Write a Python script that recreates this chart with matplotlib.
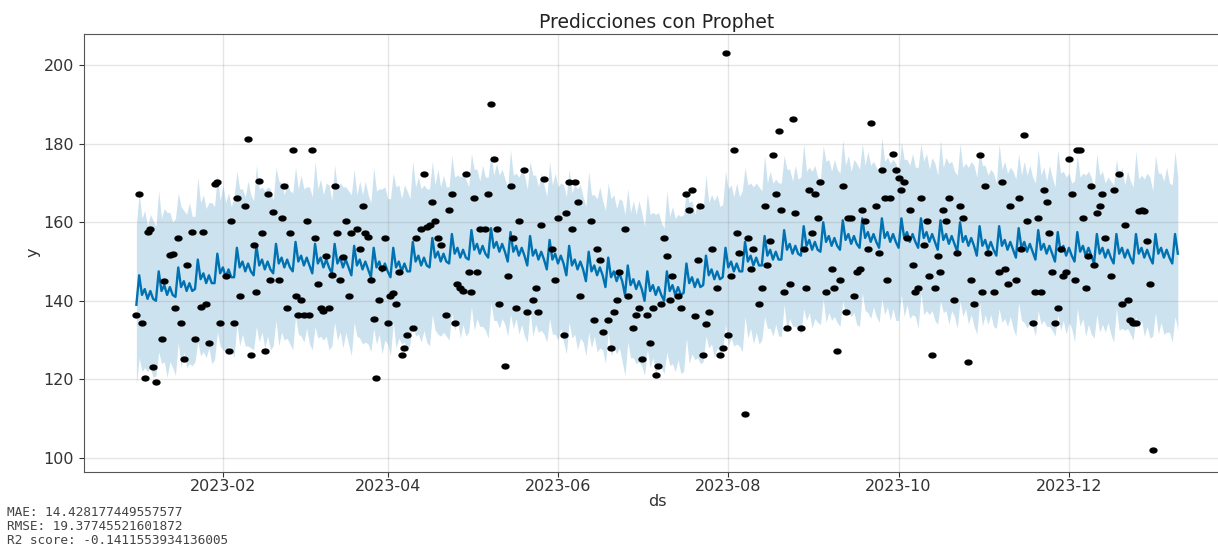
import numpy as np
import pandas as pd
import matplotlib
matplotlib.use("Agg")
import matplotlib.pyplot as plt
import matplotlib.dates as mdates
import matplotlib.path as mpath

start = "2023-01-01"

# observed points: day offset from 2023-01-01 and value
obs_day = [0, 1, 2, 3, 4, 5, 6, 7, 9, 10, 12, 13, 14, 15, 16, 17, 18, 20, 21, 23,
           24, 25, 26, 28, 29, 30, 32, 33, 34, 35, 36, 37, 39, 40, 41, 42, 43, 44, 45, 46,
           47, 48, 49, 51, 52, 53, 54, 55, 56, 57, 58, 59, 60, 61, 62, 63, 64, 65, 66, 67,
           68, 69, 70, 71, 72, 73, 74, 75, 76, 77, 79, 80, 81, 82, 83, 84, 85, 86, 87, 88,
           89, 90, 91, 92, 93, 94, 95, 96, 97, 99, 100, 102, 103, 104, 105, 106, 107, 108, 109, 111,
           112, 113, 114, 115, 116, 117, 118, 119, 120, 121, 122, 123, 125, 126, 127, 128, 129, 130, 132, 133,
           134, 135, 136, 137, 139, 140, 142, 143, 144, 145, 146, 149, 150, 151, 153, 154, 155, 156, 157, 158,
           159, 163, 164, 165, 166, 167, 169, 170, 171, 172, 173, 175, 176, 178, 179, 180, 181, 183, 184, 185,
           186, 187, 188, 189, 190, 191, 192, 194, 195, 197, 198, 199, 200, 201, 202, 203, 204, 205, 206, 208,
           209, 210, 211, 212, 213, 214, 215, 216, 218, 219, 220, 221, 223, 224, 225, 226, 227, 228, 229, 230,
           231, 232, 233, 234, 235, 236, 238, 239, 240, 241, 242, 243, 244, 245, 247, 249, 250, 251, 252, 253,
           254, 255, 256, 257, 258, 259, 260, 261, 262, 263, 265, 266, 267, 268, 269, 270, 271, 272, 273, 274,
           275, 276, 277, 278, 279, 280, 281, 282, 283, 284, 285, 286, 287, 288, 289, 290, 291, 293, 294, 295,
           296, 298, 299, 300, 302, 303, 304, 305, 307, 309, 310, 311, 312, 313, 315, 316, 317, 318, 319, 321,
           322, 323, 324, 325, 326, 327, 328, 329, 330, 331, 332, 333, 334, 335, 336, 337, 338, 339, 340, 341,
           342, 343, 344, 345, 346, 347, 349, 350, 352, 353, 354, 355, 356, 357, 358, 359, 360, 361, 362, 363,
           364]
obs_y = [136.3, 167.1, 134.4, 120.4, 157.6, 158.2, 123.2, 119.4, 130.2, 145.1, 151.6, 152.0, 138.2, 156.1, 134.4, 125.2, 149.2, 157.4, 130.2, 138.5,
         157.4, 139.1, 129.3, 169.7, 170.3, 134.4, 146.3, 127.3, 160.3, 134.4, 166.3, 141.3, 164.2, 181.3, 126.1, 154.3, 142.3, 170.5, 157.3, 127.3,
         167.1, 145.2, 162.5, 145.2, 161.2, 169.2, 138.2, 157.3, 178.4, 141.3, 136.3, 140.2, 136.3, 160.3, 136.3, 178.4, 156.1, 144.2, 138.2, 137.4,
         151.4, 138.2, 146.5, 169.3, 157.3, 145.2, 151.2, 160.3, 141.3, 157.3, 158.2, 153.3, 164.2, 157.3, 156.3, 145.2, 135.3, 120.4, 140.2, 148.4,
         156.1, 134.4, 141.3, 142.1, 139.3, 147.4, 126.3, 128.1, 131.4, 133.2, 156.1, 158.2, 172.2, 158.8, 159.3, 165.2, 160.3, 156.1, 154.3, 136.3,
         163.2, 167.1, 134.4, 144.2, 143.3, 142.4, 172.2, 147.4, 142.3, 166.2, 147.4, 158.2, 158.2, 167.1, 190.2, 176.2, 158.2, 139.3, 123.3, 146.3,
         169.3, 156.1, 138.2, 160.3, 173.3, 137.2, 140.2, 143.3, 137.2, 159.3, 171.1, 153.3, 145.2, 161.2, 131.4, 162.4, 170.3, 158.2, 170.3, 165.2,
         141.3, 160.3, 135.2, 153.3, 150.3, 132.1, 135.2, 128.1, 137.2, 140.2, 147.4, 158.2, 141.3, 133.2, 136.3, 138.2, 125.1, 136.3, 129.3, 138.2,
         121.2, 123.3, 139.3, 156.1, 151.4, 140.2, 146.3, 141.3, 138.2, 167.1, 163.2, 168.2, 136.2, 150.3, 164.2, 126.3, 134.2, 137.2, 153.3, 143.3,
         126.3, 128.1, 203.1, 131.4, 146.3, 178.4, 157.3, 152.2, 111.3, 156.1, 148.2, 153.3, 139.3, 143.3, 164.2, 149.2, 155.2, 177.2, 167.1, 183.2,
         163.2, 142.3, 133.2, 144.2, 186.2, 162.4, 133.2, 153.3, 143.3, 168.2, 157.3, 167.1, 161.2, 170.3, 142.3, 148.2, 143.3, 127.2, 145.2, 169.2,
         137.2, 161.2, 161.2, 141.3, 147.4, 148.2, 163.2, 160.3, 153.3, 185.3, 164.2, 152.2, 173.3, 166.3, 145.2, 166.3, 177.3, 173.3, 171.3, 168.2,
         170.3, 156.1, 163.2, 149.2, 142.3, 143.3, 166.3, 154.3, 160.3, 146.3, 126.3, 143.3, 151.4, 147.4, 163.2, 160.3, 166.3, 140.2, 152.2, 164.2,
         161.2, 124.3, 145.2, 139.3, 177.2, 142.3, 169.3, 152.2, 142.3, 147.4, 170.3, 148.2, 144.2, 164.2, 145.2, 166.3, 153.3, 182.2, 160.3, 134.4,
         142.3, 161.2, 142.3, 168.2, 165.2, 157.3, 147.4, 134.4, 138.2, 153.3, 146.3, 147.4, 176.2, 167.1, 145.2, 178.4, 178.4, 161.2, 143.3, 151.4,
         169.3, 149.2, 162.4, 164.2, 167.1, 156.1, 146.3, 168.2, 172.2, 139.3, 159.3, 140.2, 135.2, 134.4, 134.4, 162.8, 163.2, 162.8, 155.2, 144.2,
         102.1]

# daily forecast (yhat), 2023-01-01 .. 2024-01-09
yhat = [
    139.0, 146.5, 141.5, 143.0, 140.5, 142.5, 140.5,
    140.0, 147.5, 142.5, 144.0, 141.5, 143.5, 141.5,
    141.0, 148.5, 143.5, 145.0, 142.5, 144.5, 142.5,
    143.0, 150.5, 145.5, 147.0, 144.5, 146.5, 144.5,
    144.5, 152.0, 147.0, 148.5, 146.0, 148.0, 146.0,
    146.0, 153.5, 148.5, 150.0, 147.5, 149.5, 147.5,
    146.5, 154.0, 149.0, 150.5, 148.0, 150.0, 148.0,
    147.0, 154.5, 149.5, 151.0, 148.5, 150.5, 148.5,
    147.5, 155.0, 150.0, 151.5, 149.0, 151.0, 149.0,
    147.0, 154.5, 149.5, 151.0, 148.5, 150.5, 148.5,
    147.0, 154.5, 149.5, 151.0, 148.5, 150.5, 148.5,
    146.5, 154.0, 149.0, 150.5, 148.0, 150.0, 148.0,
    146.0, 153.5, 148.5, 150.0, 147.5, 149.5, 147.5,
    146.0, 153.5, 148.5, 150.0, 147.5, 149.5, 147.5,
    147.5, 155.0, 150.0, 151.5, 149.0, 151.0, 149.0,
    148.5, 156.0, 151.0, 152.5, 150.0, 152.0, 150.0,
    149.5, 157.0, 152.0, 153.5, 151.0, 153.0, 151.0,
    150.5, 158.0, 153.0, 154.5, 152.0, 154.0, 152.0,
    151.0, 158.5, 153.5, 155.0, 152.5, 154.5, 152.5,
    150.0, 157.5, 152.5, 154.0, 151.5, 153.5, 151.5,
    149.0, 156.5, 151.5, 153.0, 150.5, 152.5, 150.5,
    148.0, 155.5, 150.5, 152.0, 149.5, 151.5, 149.5,
    146.5, 154.0, 149.0, 150.5, 148.0, 150.0, 148.0,
    145.0, 152.5, 147.5, 149.0, 146.5, 148.5, 146.5,
    143.5, 151.0, 146.0, 147.5, 145.0, 147.0, 145.0,
    141.5, 149.0, 144.0, 145.5, 143.0, 145.0, 143.0,
    140.0, 147.5, 142.5, 144.0, 141.5, 143.5, 141.5,
    140.0, 147.5, 142.5, 144.0, 141.5, 143.5, 141.5,
    142.0, 149.5, 144.5, 146.0, 143.5, 145.5, 143.5,
    144.0, 151.5, 146.5, 148.0, 145.5, 147.5, 145.5,
    146.0, 153.5, 148.5, 150.0, 147.5, 149.5, 147.5,
    147.5, 155.0, 150.0, 151.5, 149.0, 151.0, 149.0,
    149.0, 156.5, 151.5, 153.0, 150.5, 152.5, 150.5,
    150.5, 158.0, 153.0, 154.5, 152.0, 154.0, 152.0,
    151.5, 159.0, 154.0, 155.5, 153.0, 155.0, 153.0,
    152.5, 160.0, 155.0, 156.5, 154.0, 156.0, 154.0,
    153.0, 160.5, 155.5, 157.0, 154.5, 156.5, 154.5,
    153.5, 161.0, 156.0, 157.5, 155.0, 157.0, 155.0,
    153.5, 161.0, 156.0, 157.5, 155.0, 157.0, 155.0,
    153.5, 161.0, 156.0, 157.5, 155.0, 157.0, 155.0,
    153.5, 161.0, 156.0, 157.5, 155.0, 157.0, 155.0,
    153.0, 160.5, 155.5, 157.0, 154.5, 156.5, 154.5,
    152.5, 160.0, 155.0, 156.5, 154.0, 156.0, 154.0,
    151.5, 159.0, 154.0, 155.5, 153.0, 155.0, 153.0,
    151.5, 159.0, 154.0, 155.5, 153.0, 155.0, 153.0,
    151.0, 158.5, 153.5, 155.0, 152.5, 154.5, 152.5,
    150.5, 158.0, 153.0, 154.5, 152.0, 154.0, 152.0,
    150.0, 157.5, 152.5, 154.0, 151.5, 153.5, 151.5,
    150.0, 157.5, 152.5, 154.0, 151.5, 153.5, 151.5,
    149.5, 157.0, 152.0, 153.5, 151.0, 153.0, 151.0,
    149.5, 157.0, 152.0, 153.5, 151.0, 153.0, 151.0,
    149.5, 157.0, 152.0, 153.5, 151.0, 153.0, 151.0,
    149.5, 157.0, 152.0, 153.5, 151.0, 153.0, 151.0,
    149.5, 157.0, 152.0,
]

# half width of the uncertainty interval, per day
band_half = [
    20.5, 21.0, 19.5, 20.0, 18.5, 19.5, 20.0,
    19.0, 20.5, 18.5, 19.5, 21.0, 19.0, 18.5,
    20.0, 19.0, 20.5, 18.0, 19.5, 20.5, 19.0,
    18.5, 21.0, 19.5, 20.0, 19.0, 18.5, 20.5,
    19.5, 20.0, 18.5, 21.0, 19.0, 19.5, 18.0,
    20.5, 19.5, 20.0, 18.5, 19.0, 21.0, 19.5,
    19.0, 20.5, 19.5, 18.5, 20.0, 19.0, 20.5,
    18.5, 19.5, 21.0, 19.0, 18.5, 20.0, 19.5,
    20.0, 19.0, 18.5, 20.5, 19.5, 18.0, 20.0,
    19.5, 21.0, 19.0, 20.0, 18.5, 19.5, 21.0,
    18.5, 20.0, 19.5, 19.0, 20.5, 18.5, 19.5,
    20.5, 19.5, 18.0, 20.0, 19.0, 20.5, 19.0,
    19.0, 20.5, 19.5, 18.5, 21.0, 19.5, 18.5,
    20.0, 19.0, 20.5, 19.5, 18.5, 20.0, 20.5,
    18.5, 20.5, 19.0, 20.0, 19.5, 18.5, 19.5,
    20.0, 19.5, 18.5, 21.0, 19.0, 20.0, 19.0,
    19.5, 20.0, 19.5, 18.5, 20.5, 19.0, 20.0,
    18.5, 19.5, 20.5, 19.0, 18.5, 20.5, 19.5,
    20.5, 19.0, 18.5, 20.0, 19.5, 19.0, 18.5,
    19.0, 21.0, 19.5, 18.5, 20.0, 19.5, 20.5,
    19.5, 19.0, 20.5, 19.0, 18.5, 20.0, 19.0,
    18.5, 20.0, 19.0, 20.5, 19.5, 18.5, 20.0,
    20.0, 19.5, 18.5, 19.0, 20.5, 19.5, 18.5,
    19.0, 20.5, 19.5, 18.0, 19.5, 20.5, 19.0,
    19.5, 19.0, 20.0, 19.5, 18.5, 19.0, 20.5,
    20.5, 19.5, 18.5, 20.0, 19.0, 20.5, 19.5,
    19.0, 20.0, 19.5, 18.5, 20.5, 19.0, 18.5,
    18.5, 20.5, 19.0, 20.0, 19.5, 18.5, 20.0,
    20.0, 19.0, 20.5, 19.5, 18.5, 20.0, 19.5,
    19.5, 20.5, 18.5, 19.0, 20.0, 19.5, 18.5,
    18.5, 19.5, 20.0, 19.5, 19.0, 20.5, 19.0,
    20.5, 19.0, 19.5, 18.5, 20.0, 19.0, 20.0,
    19.0, 20.5, 18.5, 20.0, 19.5, 18.5, 19.5,
    19.5, 19.0, 20.5, 19.0, 18.5, 20.5, 19.0,
    20.0, 21.0, 19.0, 18.5, 20.0, 19.5, 18.5,
    18.5, 19.5, 20.5, 19.5, 19.0, 20.0, 19.5,
    19.5, 20.5, 19.0, 20.0, 18.5, 19.5, 20.5,
    20.0, 19.0, 18.5, 20.5, 19.5, 18.5, 19.0,
    19.0, 20.5, 19.5, 19.0, 20.0, 19.0, 20.0,
    18.5, 19.5, 20.0, 18.5, 19.5, 20.5, 19.0,
    20.5, 19.0, 19.5, 20.0, 18.5, 19.5, 20.0,
    19.0, 20.5, 18.5, 19.5, 20.5, 19.0, 18.5,
    19.5, 20.0, 19.0, 18.5, 20.0, 19.5, 20.5,
    20.0, 19.5, 20.5, 19.0, 19.0, 18.5, 19.5,
    18.5, 21.0, 19.5, 20.0, 19.5, 19.0, 20.0,
    20.0, 19.0, 18.5, 20.5, 19.5, 20.0, 19.0,
    19.5, 20.5, 19.0, 19.5, 18.5, 20.5, 19.5,
    19.0, 21.0, 20.0, 19.0, 20.0, 19.0, 18.5,
    20.5, 19.5, 19.0, 18.5, 20.5, 19.5, 20.0,
    19.0, 20.5, 20.0, 19.5, 19.0, 18.5, 19.5,
    20.0, 19.0, 19.5, 20.5, 18.5, 20.0, 19.5,
    19.5, 21.0, 19.0, 18.5, 20.0, 19.5, 20.5,
    18.5, 20.0, 20.5, 19.0, 19.5, 21.0, 19.0,
    20.0, 21.0, 19.5,
]

mae = 14.428177449557577
rmse = 19.37745521601872
r2 = -0.1411553934136005

obs_dates = pd.Timestamp(start) + pd.to_timedelta(np.array(obs_day), unit="D")
fc_dates = pd.date_range(start, periods=len(yhat), freq="D")
yhat = np.array(yhat)
band_half = np.array(band_half)

plt.rcParams["font.family"] = ["DejaVu Sans"]

fig = plt.figure(figsize=(12.18, 5.58), dpi=100)
ax = fig.add_axes([84.3 / 1218, 86.3 / 558, 1145.6 / 1218, 438.0 / 558])

t = np.linspace(0, 2 * np.pi, 40)
dot = mpath.Path(np.column_stack([np.cos(t), 0.7 * np.sin(t)]))

ax.fill_between(fc_dates, yhat - band_half, yhat + band_half, color="#0072B2", alpha=0.2, lw=0)
ax.plot(fc_dates, yhat, ls="-", c="#0072B2", lw=1.7)
ax.plot(obs_dates, obs_y, ls="none", marker=dot, ms=5, color="k")

ax.set_xlim(pd.Timestamp(start) - pd.Timedelta(days=18.65),
            fc_dates[-1] + pd.Timedelta(days=18.65))
ax.set_ylim(96.5, 208.0)
ax.xaxis.set_major_locator(mdates.MonthLocator(bymonth=[2, 4, 6, 8, 10, 12]))
ax.xaxis.set_major_formatter(mdates.DateFormatter("%Y-%m"))
ax.set_yticks([100, 120, 140, 160, 180, 200])
ax.grid(True, which="major", c="gray", ls="-", lw=1, alpha=0.2)
ax.tick_params(labelsize=11.5, colors="#333333")
ax.tick_params(axis="x", pad=2)
ax.tick_params(axis="y", pad=4)
for s in ax.spines.values():
    s.set_color("#555555")

ax.set_xlabel("ds", fontsize=11.5, color="#333333", labelpad=0)
ax.set_ylabel("y", fontsize=11.5, color="#333333", labelpad=2)
ax.set_title("Predicciones con Prophet", fontsize=13.5, color="#222222", pad=4)

fig.text(7 / 1218, 1 - 513 / 558, f"MAE: {mae}", family="DejaVu Sans Mono",
         fontsize=9.2, color="#444444", va="center")
fig.text(7 / 1218, 1 - 526.5 / 558, f"RMSE: {rmse}", family="DejaVu Sans Mono",
         fontsize=9.2, color="#444444", va="center")
fig.text(7 / 1218, 1 - 540 / 558, f"R2 score: {r2}", family="DejaVu Sans Mono",
         fontsize=9.2, color="#444444", va="center")

fig.savefig("out.png", dpi=100)
